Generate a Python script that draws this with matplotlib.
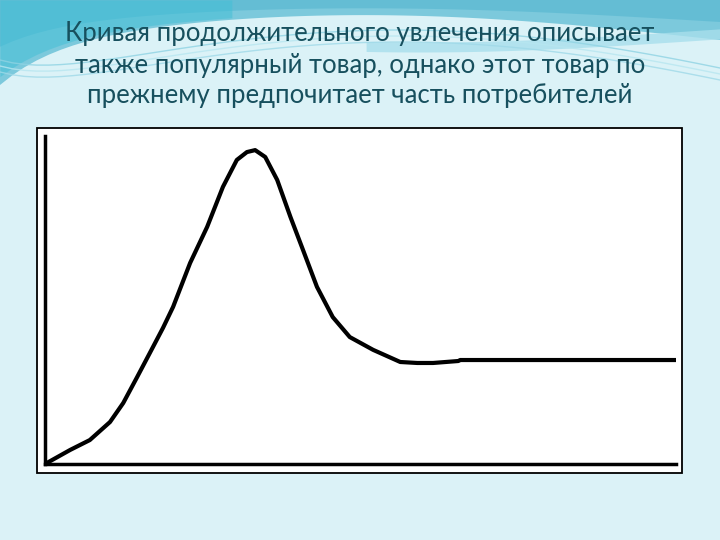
import numpy as np
import matplotlib.pyplot as plt
from matplotlib.patches import Rectangle

# curve: time (0..100) vs popularity (0..100)
t = [0, 4.0, 7.1, 10.3, 12.4, 14.6, 16.6, 18.7, 20.3, 23.0, 25.7, 28.2, 30.4, 32.0, 33.3,
     34.9, 36.8, 38.9, 40.9, 43.1, 45.6, 48.3, 52.0, 56.3, 59.0, 61.5, 65.5, 65.8, 100]
level = [0, 4.3, 7.3, 12.8, 18.6, 26.5, 33.8, 41.5, 47.9, 61.3, 72.3, 84.5, 92.7, 95.1, 95.7,
         93.6, 86.6, 75.3, 65.2, 54.0, 44.8, 38.7, 34.8, 31.1, 30.8, 30.8, 31.4, 31.7, 31.7]

title = ('Кривая продолжительного увлечения описывает\n'
         'также популярный товар, однако этот товар по\n'
         'прежнему предпочитает часть потребителей')

W, H = 720, 540
fig = plt.figure(figsize=(7.2, 5.4), dpi=100)
fig.patch.set_facecolor('#dbf2f7')

# decorative waves at the top of the slide
bg = fig.add_axes([0, 0, 1, 1])
bg.set_xlim(0, W)
bg.set_ylim(H, 0)
bg.axis('off')
xs = np.linspace(0, W, 60)
band = 40 - 25 * np.sin(xs / W * np.pi) + 45 * np.exp(-xs / 60)
bg.fill_between(xs, 0, band, color='#7cc9dc', lw=0)
bg.fill_between(xs, 0, band * 0.55, color='#5ab9d2', lw=0, alpha=0.7)
bg.fill_between(xs[:20], 0, band[:20] * 0.9, color='#3fbfd6', lw=0, alpha=0.5)
wave = 38 + 12 * np.cos((xs - 420) / 180)
bg.fill_between(xs[30:], wave[30:] - 8, wave[30:] + 2, color='#a8dfec', lw=0, alpha=0.8)
for off, c in [(0, '#8fd3e3'), (6, '#b7e6f0'), (12, '#9fd9e8')]:
    bg.plot(xs, 85 - 55 * np.sin(xs / W * np.pi * 0.9) + off - 25 * np.exp(-xs / 50),
            color=c, lw=1, alpha=0.8)

fig.text(0.5, (H - 65) / H, title, ha='center', va='center', fontsize=18.5,
         family='Lato', color='#17505e', linespacing=1.3)

# white box behind the chart
fig.patches.append(Rectangle((37 / W, 1 - 473 / H), 645 / W, 345 / H,
                             transform=fig.transFigure, facecolor='white',
                             edgecolor='black', lw=1.3, zorder=1))

ax = fig.add_axes([45 / W, 1 - 464 / H, 631 / W, 328 / H])
ax.set_facecolor('none')
ax.plot(t, level, color='black', lw=3, solid_capstyle='butt', solid_joinstyle='round')
ax.set_xlim(0, 100)
ax.set_ylim(0, 100)
ax.set_xticks([])
ax.set_yticks([])
for s in ['top', 'right']:
    ax.spines[s].set_visible(False)
for s in ['left', 'bottom']:
    ax.spines[s].set_linewidth(2.5)
ax.set_zorder(2)

fig.savefig('out.png', dpi=100, facecolor=fig.get_facecolor())
